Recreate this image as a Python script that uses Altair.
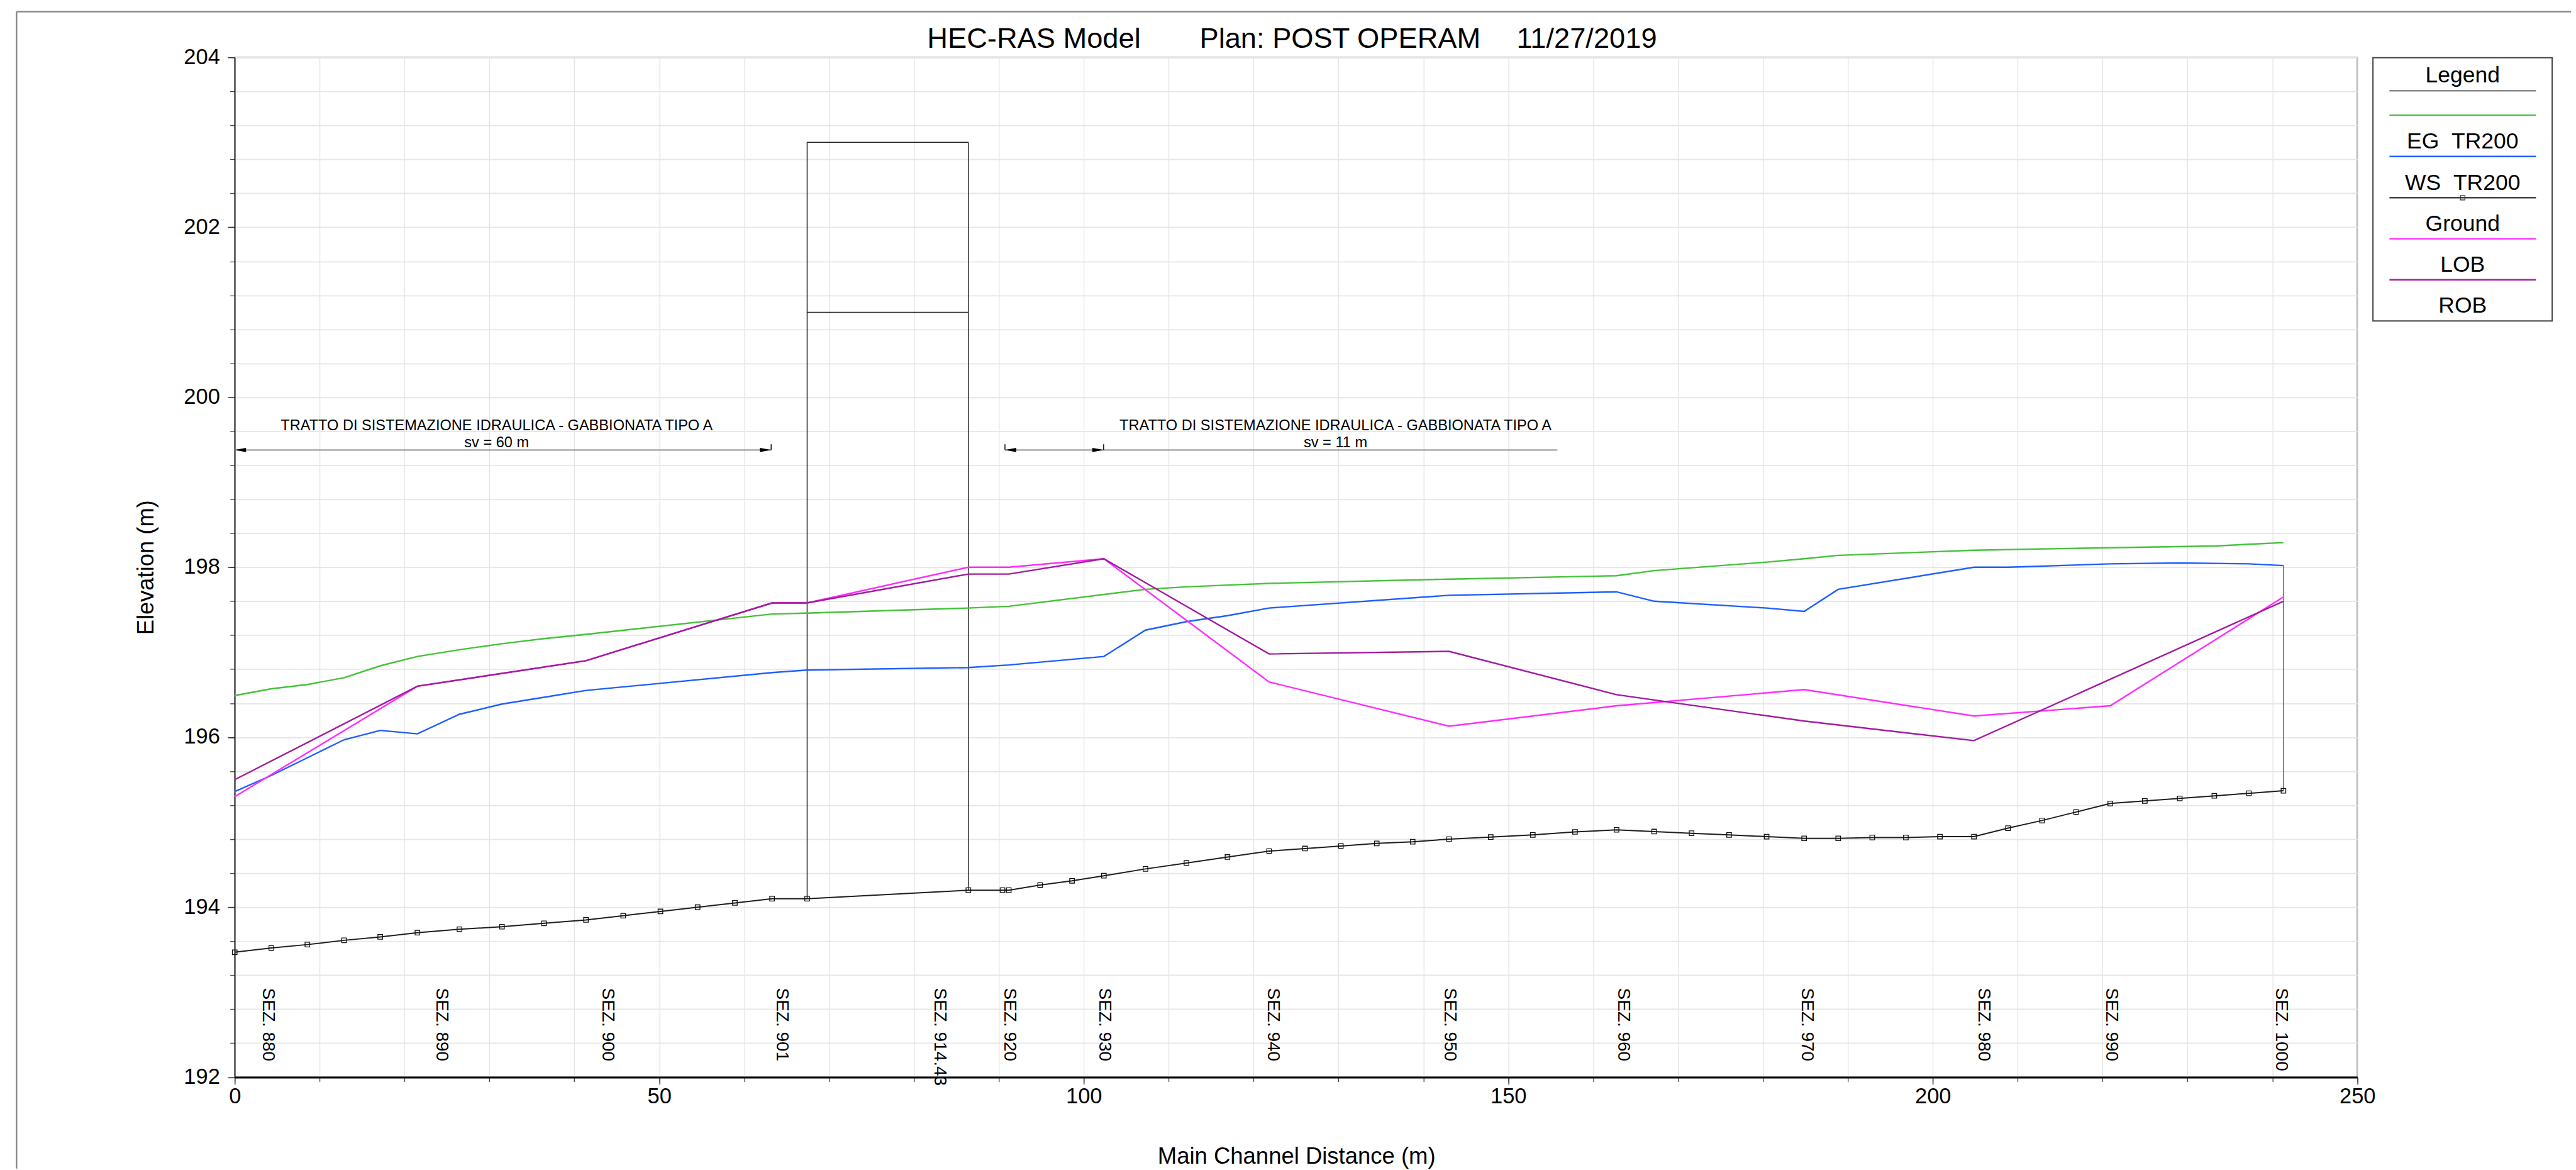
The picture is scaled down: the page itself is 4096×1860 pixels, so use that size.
import altair as alt
import pandas as pd

# ---------------- data ----------------
ground_x = [0, 4.31, 8.56, 12.88, 17.14, 21.52, 26.47, 31.48, 36.43, 41.37, 45.76, 50.14,
            54.52, 58.91, 63.29, 67.42, 86.41, 90.43, 91.17, 94.86, 98.62, 102.37, 107.27,
            112.10, 116.93, 121.83, 126.06, 130.28, 134.51, 138.74, 143.03, 147.93, 152.89,
            157.86, 162.75, 167.18, 171.59, 176.01, 180.43, 184.85, 188.86, 192.87, 196.83,
            200.84, 204.85, 208.86, 212.87, 216.88, 220.9, 224.97, 229.09, 233.16, 237.23, 241.3]
ground_y = [193.47, 193.52, 193.56, 193.61, 193.65, 193.70, 193.74, 193.77, 193.81, 193.85,
            193.90, 193.95, 194.00, 194.05, 194.10, 194.10, 194.20, 194.20, 194.20, 194.26,
            194.31, 194.37, 194.45, 194.52, 194.59, 194.66, 194.69, 194.72, 194.75, 194.77,
            194.80, 194.825, 194.85, 194.886, 194.91, 194.89, 194.87, 194.85, 194.83, 194.81,
            194.81, 194.82, 194.82, 194.83, 194.83, 194.93, 195.02, 195.12, 195.22, 195.25,
            195.28, 195.31, 195.34, 195.37]

eg_x = [0, 4.31, 8.56, 12.88, 17.14, 21.52, 26.47, 31.48, 36.43, 41.37, 63.29, 67.42, 86.41,
        91.17, 107.27, 112.10, 116.93, 121.83, 143.03, 162.75, 167.18, 180.43, 184.85, 188.86,
        204.85, 220.9, 233.16, 237.23, 241.3]
eg_y = [196.49, 196.57, 196.62, 196.70, 196.84, 196.95, 197.03, 197.10, 197.16, 197.21, 197.45,
        197.46, 197.52, 197.54, 197.74, 197.77, 197.79, 197.81, 197.86, 197.90, 197.96, 198.06,
        198.10, 198.14, 198.20, 198.23, 198.25, 198.27, 198.29]

ws_x = [0, 4.31, 12.88, 17.14, 21.52, 26.47, 31.48, 36.43, 41.37, 63.29, 67.42, 86.41, 91.17,
        102.37, 107.27, 112.10, 116.93, 121.83, 143.03, 162.75, 167.18, 180.43, 184.85, 188.86,
        204.85, 208.86, 220.9, 229.09, 237.23, 241.3]
ws_y = [195.36, 195.55, 195.97, 196.08, 196.04, 196.27, 196.39, 196.47, 196.55, 196.76, 196.79,
        196.82, 196.85, 196.95, 197.26, 197.36, 197.43, 197.52, 197.67, 197.71, 197.60, 197.52,
        197.48, 197.74, 198.00, 198.00, 198.04, 198.05, 198.04, 198.02]

lob_x = [0, 21.52, 41.37, 63.29, 67.42, 86.41, 91.17, 102.37, 121.83, 143.03, 162.75, 184.85,
         204.85, 220.9, 241.3]
lob_y = [195.30, 196.60, 196.90, 197.58, 197.58, 198.00, 198.00, 198.10, 196.65, 196.13, 196.37,
         196.56, 196.25, 196.37, 197.65]

rob_x = [0, 21.52, 41.37, 63.29, 67.42, 86.41, 91.17, 102.37, 121.83, 143.03, 162.75, 184.85,
         204.85, 241.3]
rob_y = [195.50, 196.60, 196.90, 197.58, 197.58, 197.92, 197.92, 198.10, 196.98, 197.01, 196.50,
         196.19, 195.96, 197.60]

# bridge (SEZ 914.43) outline
bridge_x = [67.42, 86.41, 67.42, 67.42]
bridge_x2 = [67.42, 86.41, 86.41, 86.41]
bridge_y = [194.10, 194.20, 203.0, 201.0]
bridge_y2 = [203.0, 203.0, 203.0, 201.0]

# last section vertical line
end_x = [241.3]
end_y = [195.37]
end_y2 = [198.02]

# section labels
sez_labels = ["SEZ. 880", "SEZ. 890", "SEZ. 900", "SEZ. 901", "SEZ. 914.43", "SEZ. 920",
              "SEZ. 930", "SEZ. 940", "SEZ. 950", "SEZ. 960", "SEZ. 970", "SEZ. 980",
              "SEZ. 990", "SEZ. 1000"]
sez_x = [3.93, 24.35, 43.88, 64.4, 82.99, 91.24, 102.44, 122.3, 143.1, 163.5, 185.2, 205.96,
         221.0, 241.03]
sez_top = 193.05

# annotations
note_text = ["TRATTO DI SISTEMAZIONE IDRAULICA - GABBIONATA TIPO A",
             "TRATTO DI SISTEMAZIONE IDRAULICA - GABBIONATA TIPO A"]
note_sv = ["sv = 60 m", "sv = 11 m"]
note_cx = [30.85, 129.65]
note_y1 = 199.61
note_y2 = 199.41
arrow_x1 = [0, 90.72]
arrow_x2 = [63.18, 155.78]
arrow_y = 199.38
head_x = [0, 63.18, 90.72, 102.34]
head_ang = [180, 0, 180, 0]
tick_x = [63.18, 90.72, 102.34]
tick_top = 199.447

title_parts = ["HEC-RAS Model", "Plan: POST OPERAM", "11/27/2019"]
legend_labels = ["Legend", "EG\u00a0\u00a0TR200", "WS\u00a0\u00a0TR200", "Ground", "LOB", "ROB"]
legend_colors = ["#8a8a8a", "#45c23a", "#1f5eff", "#444444", "#ff2bff", "#a11c9f"]

# ---------------- layout (pixels, window scale 0.948) ----------------
W, H = 3377.7, 1622.5
FONT = "Liberation Sans"

xs = alt.Scale(domain=[0, 250], nice=False, zero=False)
ys = alt.Scale(domain=[192, 204], nice=False, zero=False)

one = pd.DataFrame({"a": [0]})


def px_rule(x, y, x2=None, y2=None, color="black", w=2.0):
    enc = dict(x=alt.value(x), y=alt.value(y))
    if x2 is not None:
        enc["x2"] = alt.value(x2)
    if y2 is not None:
        enc["y2"] = alt.value(y2)
    return alt.Chart(one).mark_rule(color=color, strokeWidth=w).encode(**enc)


def px_text(t, x, y, size, align="center"):
    return alt.Chart(pd.DataFrame({"t": [t]})).mark_text(
        font=FONT, fontSize=size, color="black", align=align, baseline="alphabetic"
    ).encode(x=alt.value(x), y=alt.value(y), text="t:N")


# axes (minor: grid + short ticks, major: labels + long ticks)
axis_df = pd.DataFrame({"x": [0, 250], "y": [192, 204]})
minor_x = alt.Axis(orient="bottom", values=list(range(0, 251, 10)), grid=True,
                   gridColor="#e3e3e3", gridWidth=1.3, ticks=True, tickSize=7,
                   tickColor="#444444", tickWidth=1.3, labels=False, domain=False, title=None)
minor_y = alt.Axis(orient="left", values=[round(192 + 0.4 * i, 1) for i in range(31)],
                   grid=True, gridColor="#e6e6e6", gridWidth=1.8, ticks=True, tickSize=7.6,
                   tickColor="#444444", tickWidth=1.3, labels=False, domain=False, title=None)
major_x = alt.Axis(orient="bottom", values=[0, 50, 100, 150, 200, 250], grid=False,
                   ticks=True, tickSize=11.4, tickColor="#333333", tickWidth=1.5,
                   labels=True, labelFont=FONT, labelFontSize=34.5, labelColor="black",
                   labelPadding=3, labelFlush=False, labelOverlap=False,
                   domain=True, domainColor="black", domainWidth=3,
                   title="Main Channel Distance (m)", titleFont=FONT, titleFontSize=36.5,
                   titleFontWeight="normal", titleColor="black", titleX=1689.3, titleY=137.3,
                   titleBaseline="alphabetic", titleAlign="center")
major_y = alt.Axis(orient="left", values=[192, 194, 196, 198, 200, 202, 204], grid=False,
                   ticks=True, tickSize=11.4, tickColor="#333333", tickWidth=1.5,
                   labels=True, labelFont=FONT, labelFontSize=34.5, labelColor="black",
                   labelPadding=12.5, labelFlush=False, labelOverlap=False,
                   domain=True, domainColor="black", domainWidth=1.5,
                   title="Elevation (m)", titleFont=FONT, titleFontSize=36.4,
                   titleFontWeight="normal", titleColor="black", titleX=-141.2, titleY=811.25,
                   titleAngle=270, titleBaseline="middle", titleAlign="center")

ax_minor = alt.Chart(axis_df).mark_point(opacity=0).encode(
    x=alt.X("x:Q", scale=xs, axis=minor_x), y=alt.Y("y:Q", scale=ys, axis=minor_y))
ax_major = alt.Chart(axis_df).mark_point(opacity=0).encode(
    x=alt.X("x:Q", scale=xs, axis=major_x), y=alt.Y("y:Q", scale=ys, axis=major_y))


def X(f="x"):
    return alt.X(f"{f}:Q", scale=xs, axis=None)


def Y(f="y"):
    return alt.Y(f"{f}:Q", scale=ys, axis=None)


def series(xv, yv, color, w=2.4):
    df = pd.DataFrame({"x": xv, "y": yv})
    return alt.Chart(df).mark_line(color=color, strokeWidth=w).encode(x=X(), y=Y())


eg = series(eg_x, eg_y, legend_colors[1])
ws = series(ws_x, ws_y, legend_colors[2])
lob = series(lob_x, lob_y, legend_colors[4])
rob = series(rob_x, rob_y, legend_colors[5])
gdf = pd.DataFrame({"x": ground_x, "y": ground_y})
ground = alt.Chart(gdf).mark_line(color="#1e1e1e", strokeWidth=2.0).encode(x=X(), y=Y())
ground_pts = alt.Chart(gdf).mark_point(shape="square", filled=False, size=55, color="#111111",
                                       strokeWidth=1.3, opacity=1).encode(x=X(), y=Y())

bdf = pd.DataFrame({"x": bridge_x, "x2": bridge_x2, "y": bridge_y, "y2": bridge_y2})
bridge = alt.Chart(bdf).mark_rule(color="#222222", strokeWidth=1.4).encode(
    x=X(), x2="x2:Q", y=Y(), y2="y2:Q")
edf = pd.DataFrame({"x": end_x, "y": end_y, "y2": end_y2})
endline = alt.Chart(edf).mark_rule(color="#444444", strokeWidth=1.2).encode(
    x=X(), y=Y(), y2="y2:Q")

adf = pd.DataFrame({"x": arrow_x1, "x2": arrow_x2, "y": [arrow_y] * 2})
arrows = alt.Chart(adf).mark_rule(color="#7a7a7a", strokeWidth=1.9).encode(
    x=X(), x2="x2:Q", y=Y())
hdf = pd.DataFrame({"x": head_x, "y": [arrow_y] * 4, "a": head_ang})
heads = alt.Chart(hdf).mark_point(shape="M 0 0 L -1 -0.19 L -1 0.19 Z", filled=True,
                                  size=1296, color="black", opacity=1, strokeWidth=0).encode(
    x=X(), y=Y(), angle=alt.Angle("a:Q", scale=None))
tdf = pd.DataFrame({"x": tick_x, "y": [arrow_y] * 3, "y2": [tick_top] * 3})
ticks = alt.Chart(tdf).mark_rule(color="black", strokeWidth=1.4).encode(
    x=X(), y=Y(), y2="y2:Q")

ndf = pd.DataFrame({"x": note_cx, "t1": note_text, "t2": note_sv})
notes1 = alt.Chart(ndf).transform_calculate(y=str(note_y1)).mark_text(
    font=FONT, fontSize=23.6, color="black", align="center", baseline="alphabetic").encode(
    x=X(), y=Y(), text="t1:N")
notes2 = alt.Chart(ndf).transform_calculate(y=str(note_y2)).mark_text(
    font=FONT, fontSize=23.6, color="black", align="center", baseline="alphabetic").encode(
    x=X(), y=Y(), text="t2:N")

sdf = pd.DataFrame({"x": sez_x, "y": [sez_top] * len(sez_x), "t": sez_labels})
sez = alt.Chart(sdf).mark_text(font=FONT, fontSize=28, color="black", angle=90, align="left",
                               baseline="middle").encode(x=X(), y=Y(), text="t:N")

# title
title_cx = [1271.8, 1759.0, 2151.5]
titles = [px_text(t, cx, -15.6, 45.3) for t, cx in zip(title_parts, title_cx)]

# legend box
LX, L1, L2 = 3545.3, 3428.9, 3662.1
legend_box = alt.Chart(one).mark_rect(fill="white", stroke="#444444", strokeWidth=2).encode(
    x=alt.value(3402.6), x2=alt.value(3687.8), y=alt.value(0.5), y2=alt.value(419.5))
leg_text_y = [40.1, 144.6, 210.6, 275.9, 341.2, 406.5]
leg_line_y = [53.1, 92.0, 157.7, 223.3, 288.7, 353.9]
leg_layers = [legend_box]
for c, yy in zip(legend_colors, leg_line_y):
    leg_layers.append(px_rule(L1, yy, x2=L2, color=c, w=2.4))
leg_layers.append(alt.Chart(one).mark_point(shape="square", filled=False, size=52,
                                            color="#222222", strokeWidth=1.1, opacity=1).encode(
    x=alt.value(LX), y=alt.value(leg_line_y[3])))
for t, yy in zip(legend_labels, leg_text_y):
    leg_layers.append(px_text(t, LX, yy, 35.5))

# outer frame of the figure
frame = [px_rule(-347.2, -72.7, x2=3718, color="#8a8a8a", w=2.5),
         px_rule(-347.2, -72.7, y2=1768, color="#8a8a8a", w=2.5)]

chart = alt.layer(
    ax_minor, ax_major,
    bridge, endline,
    eg, ws, lob, rob, ground, ground_pts,
    arrows, heads, ticks, notes1, notes2, sez,
    *titles, *leg_layers, *frame
).resolve_axis(x="independent", y="independent").properties(
    width=W, height=H,
    autosize=alt.AutoSizeParams(type="none"),
    padding={"left": 365.5, "top": 82.5, "right": 340, "bottom": 145},
).configure(font=FONT).configure_view(stroke="#8a8a8a", strokeWidth=2)

chart.save("out.html", embed_options={"renderer": "svg", "actions": False})
